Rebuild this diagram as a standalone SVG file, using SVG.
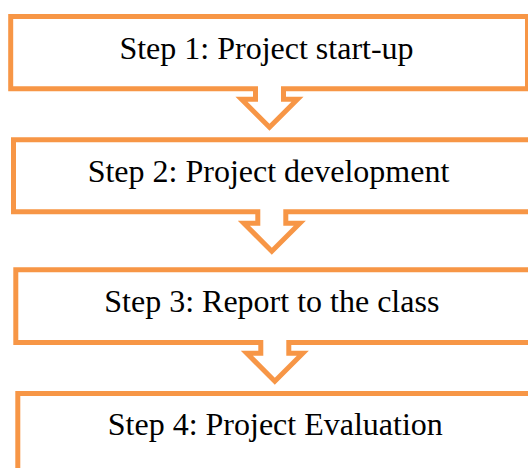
<svg xmlns="http://www.w3.org/2000/svg" width="528" height="468" viewBox="0 0 528 468">
<style>
.box{fill:#ffffff;stroke:#F79646;stroke-width:5;stroke-linejoin:miter}
.lbl{font-family:"Liberation Serif","Times New Roman",serif;font-size:32px;fill:#000;text-anchor:middle}
</style>
<rect width="528" height="468" fill="#ffffff"/>
<g id="connectors"></g>
<g id="step1">
<path class="box" d="M10.7,16.5 H527.5 V88.8 H283.5 V99.2 H297.5 L269.5,127.2 L241.5,99.2 H255.5 V88.8 H10.7 Z"/>
<text class="lbl" x="266.5" y="58.5">Step 1: Project start-up</text>
</g>
<g id="step2">
<path class="box" d="M13.5,139.8 H531 V211.8 H285.8 V223.2 H299.8 L271.8,251.2 L243.8,223.2 H257.8 V211.8 H13.5 Z"/>
<text class="lbl" x="268.5" y="181.7">Step 2: Project development</text>
</g>
<g id="step3">
<path class="box" d="M15.8,269.8 H533 V342.5 H288.8 V353.2 H302.8 L274.8,381.2 L246.8,353.2 H260.8 V342.5 H15.8 Z"/>
<text class="lbl" x="271.8" y="311.7">Step 3: Report to the class</text>
</g>
<g id="step4">
<path class="box" d="M17.8,393.5 H535 V480 H17.8 Z"/>
<text class="lbl" x="275.3" y="435">Step 4: Project Evaluation</text>
</g>
</svg>
